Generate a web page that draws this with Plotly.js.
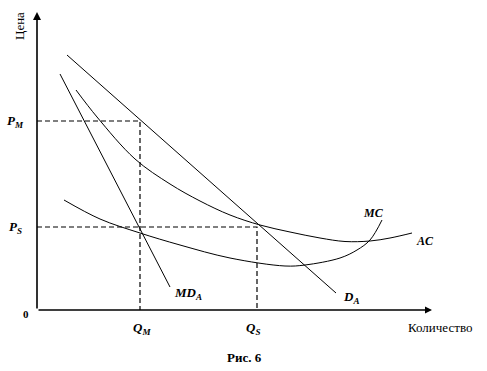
<!DOCTYPE html>
<html>
<head>
<meta charset="utf-8">
<script src="https://cdn.plot.ly/plotly-3.0.1.min.js"></script>
<style>html,body{margin:0;padding:0;background:#fff;}#chart{width:487px;height:371px;}</style>
</head>
<body>
<div id="chart"></div>
<script>
// Levels (origin at the axes corner)
const priceLevels = { PM: 189, PS: 83 };
const quantityLevels = { QM: 103, QS: 220 };

// Demand D_A (straight line)
const demandX = [30, 299];
const demandY = [255, 17];

// Marginal demand MD_A (straight line)
const mdX = [23, 133];
const mdY = [236, 23];

// Average cost AC
const acX = [39, 60, 98, 133, 163, 193, 223, 253, 283, 308, 333, 353, 375];
const acY = [220, 193, 151, 126, 109, 95, 85, 78, 72, 68.5, 69, 72, 77];

// Marginal cost MC
const mcX = [27, 63, 103, 143, 193, 248, 268, 303, 320, 333, 345];
const mcY = [110, 91, 77, 65, 52, 44, 45, 52, 60, 70, 90];

// Axis extents
const xAxisEnd = 395;
const yAxisEnd = 298;

const serif = "'Liberation Serif', 'Times New Roman', serif";
const lineStyle = { color: "#000", width: 1 };
const dashStyle = { color: "#000", width: 1.2, dash: "5px,3px" };

const traces = [
  { x: demandX, y: demandY, mode: "lines", line: lineStyle, hoverinfo: "skip" },
  { x: mdX, y: mdY, mode: "lines", line: lineStyle, hoverinfo: "skip" },
  { x: acX, y: acY, mode: "lines", line: Object.assign({ shape: "spline", smoothing: 1 }, lineStyle), hoverinfo: "skip" },
  { x: mcX, y: mcY, mode: "lines", line: Object.assign({ shape: "spline", smoothing: 1 }, lineStyle), hoverinfo: "skip" },
  { x: [0, quantityLevels.QM, quantityLevels.QM], y: [priceLevels.PM, priceLevels.PM, 0], mode: "lines", line: dashStyle, hoverinfo: "skip" },
  { x: [0, quantityLevels.QS, quantityLevels.QS], y: [priceLevels.PS, priceLevels.PS, 0], mode: "lines", line: dashStyle, hoverinfo: "skip" }
];

function lbl(x, y, text, size, extra) {
  return Object.assign({
    x: x, y: y, xref: "x", yref: "y", text: text, showarrow: false,
    font: { family: serif, size: size, color: "#000" },
    xanchor: "center", yanchor: "middle"
  }, extra || {});
}

const annotations = [
  // axes with arrowheads
  { x: 0, y: yAxisEnd, ax: 0, ay: 0, xref: "x", yref: "y", axref: "x", ayref: "y",
    text: "", showarrow: true, arrowhead: 2, arrowsize: 1, arrowwidth: 1.6, arrowcolor: "#000" },
  { x: xAxisEnd, y: 0, ax: 0, ay: 0, xref: "x", yref: "y", axref: "x", ayref: "y",
    text: "", showarrow: true, arrowhead: 2, arrowsize: 1, arrowwidth: 1.4, arrowcolor: "#000" },
  lbl(-22, priceLevels.PM, "<b><i>P<sub>M</sub></i></b>", 13),
  lbl(-22, priceLevels.PS, "<b><i>P<sub>S</sub></i></b>", 13),
  lbl(quantityLevels.QM + 2, -18, "<b><i>Q<sub>M</sub></i></b>", 13),
  lbl(quantityLevels.QS - 4, -18, "<b><i>Q<sub>S</sub></i></b>", 13),
  lbl(-11, -4, "<b>0</b>", 11),
  lbl(-18, 284, "Цена", 13, { textangle: -90 }),
  lbl(403, -17, "Количество", 13),
  lbl(207, -47, "<b>Рис. 6</b>", 13),
  lbl(151, 17, "<b><i>MD<sub>A</sub></i></b>", 13),
  lbl(314, 13, "<b><i>D<sub>A</sub></i></b>", 13),
  lbl(336, 97, "<b><i>MC</i></b>", 12),
  lbl(388, 69, "<b><i>AC</i></b>", 12)
];

const layout = {
  width: 487, height: 371,
  margin: { l: 0, r: 0, t: 0, b: 0, pad: 0 },
  paper_bgcolor: "#fff", plot_bgcolor: "#fff",
  showlegend: false,
  xaxis: { range: [-37, 450], visible: false, fixedrange: true },
  yaxis: { range: [-61, 310], visible: false, fixedrange: true },
  annotations: annotations
};

Plotly.newPlot("chart", traces, layout, { displayModeBar: false, staticPlot: true });
</script>
</body>
</html>
